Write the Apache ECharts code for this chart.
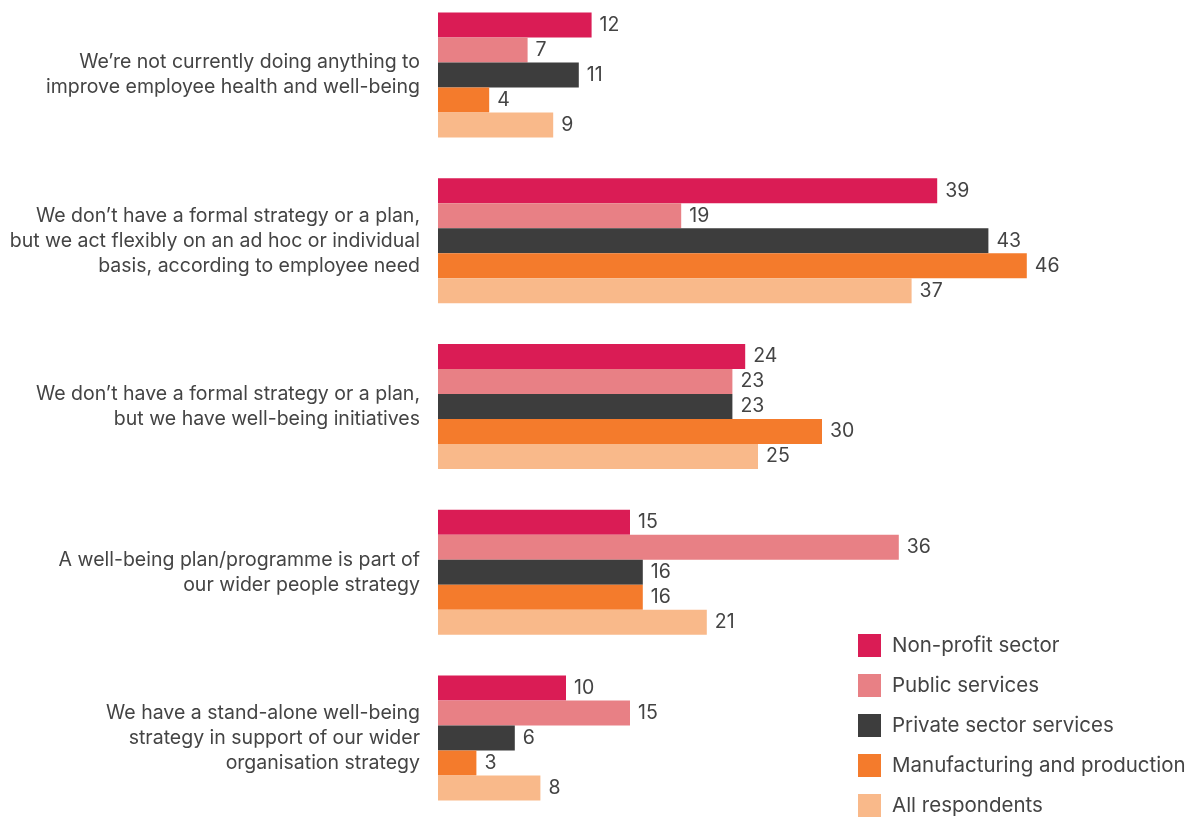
<!DOCTYPE html>
<html>
<head>
<meta charset="utf-8">
<script src="https://cdn.jsdelivr.net/npm/echarts@6/dist/echarts.min.js"></script>
<style>
  html, body { margin: 0; padding: 0; background: #fff; overflow: hidden; }
  #wrap { position: relative; width: 1187px; height: 818px; overflow: hidden; }
  #chart { position: absolute; left: 0; top: -8px; width: 1187px; height: 836px; }
</style>
</head>
<body>
<div id="wrap"><div id="chart"></div></div>
<script>
// Approaches to employee well-being, % of respondents by sector
const categories = [
  'We’re not currently doing anything to\nimprove employee health and well-being',
  'We don’t have a formal strategy or a plan,\nbut we act flexibly on an ad hoc or individual\nbasis, according to employee need',
  'We don’t have a formal strategy or a plan,\nbut we have well-being initiatives',
  'A well-being plan/programme is part of\nour wider people strategy',
  'We have a stand-alone well-being\nstrategy in support of our wider\norganisation strategy'
];
const seriesNames = ['Non-profit sector', 'Public services', 'Private sector services', 'Manufacturing and production', 'All respondents'];
const nonProfit = [12, 39, 24, 15, 10];
const publicServices = [7, 19, 23, 36, 15];
const privateServices = [11, 43, 23, 16, 6];
const manufacturing = [4, 46, 30, 16, 3];
const allRespondents = [9, 37, 25, 21, 8];
const colors = ['#DA1C55', '#E88085', '#3D3D3D', '#F47B2C', '#F9B98A'];

const seriesData = [nonProfit, publicServices, privateServices, manufacturing, allRespondents];
const font = 'Inter, sans-serif';

const chart = echarts.init(document.getElementById('chart'), null, { renderer: 'canvas' });
chart.setOption({
  animation: false,
  color: colors,
  textStyle: { fontFamily: font },
  legend: {
    orient: 'vertical',
    left: 858,
    top: 642,
    padding: 0,
    itemWidth: 23,
    itemHeight: 23,
    itemGap: 17,
    icon: 'rect',
    textStyle: { fontSize: 20.5, color: '#444', fontFamily: font, padding: [0, 0, 0, 6] },
    data: seriesNames
  },
  grid: { left: 438, width: 640, top: 0, height: 829, containLabel: false },
  xAxis: {
    type: 'value', min: 0, max: 50,
    show: false
  },
  yAxis: {
    type: 'category',
    inverse: true,
    data: categories,
    axisLine: { show: false },
    axisTick: { show: false },
    axisLabel: {
      margin: 18,
      fontSize: 19.5,
      lineHeight: 25,
      color: '#444',
      align: 'right',
      fontFamily: font
    }
  },
  series: seriesData.map((d, i) => ({
    name: seriesNames[i],
    type: 'bar',
    data: d,
    barWidth: 25,
    barGap: '0%',
    itemStyle: { color: colors[i] },
    label: {
      show: true,
      position: 'right',
      distance: 8,
      fontSize: 19.5,
      color: '#444',
      fontFamily: font
    }
  }))
});
</script>
</body>
</html>
